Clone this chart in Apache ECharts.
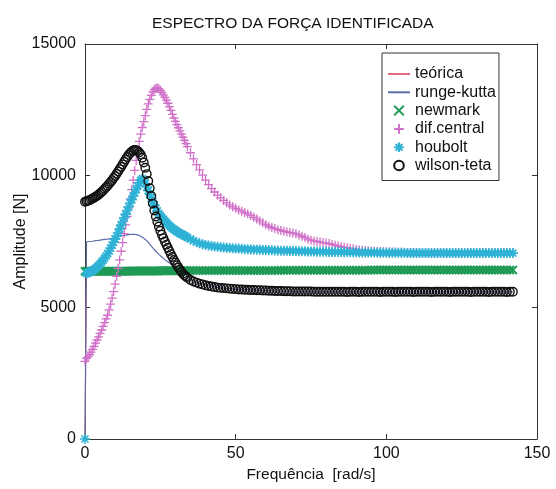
<!DOCTYPE html>
<html><head><meta charset="utf-8">
<script src="https://cdn.jsdelivr.net/npm/echarts@6/dist/echarts.min.js"></script>
<style>html,body{margin:0;padding:0;background:#fff}#c{width:556px;height:489px}</style>
</head><body><div id="c"></div>
<script>
const titleText = 'ESPECTRO DA FORÇA IDENTIFICADA';
const xName = 'Frequência  [rad/s]';
const yName = 'Amplitude [N]';
const xTicks = [0, 50, 100, 150];
const yTicks = [0, 5000, 10000, 15000];
const seriesNames = ['teórica', 'runge-kutta', 'newmark', 'dif.central', 'houbolt', 'wilson-teta'];

const freq = [
  0,0.5,1,1.5,2,2.5,3,3.5,4,4.5,
  5,5.5,6,6.5,7,7.5,8,8.5,9,9.5,
  10,10.5,11,11.5,12,12.5,13,13.5,14,14.5,
  15,15.5,16,16.5,17,17.5,18,18.5,19,19.5,
  20,20.5,21,21.5,22,22.5,23,23.5,24,24.5,
  25,25.5,26,26.5,27,27.5,28,28.5,29,29.5,
  30,30.5,31,31.5,32,32.5,33,33.5,34,
  35,36,37,38,39,40,41,42,43,44,
  45,46,47,48,49,50,51,52,53,54,
  55,56,57,58,59,60,61,62,63,64,
  65,66,67,68,69,70,71,72,73,74,
  75,76,77,78,79,80,81,82,83,84,
  85,86,87,88,89,90,91,92,93,94,
  95,96,97,98,99,100,101,102,103,104,
  105,106,107,108,109,110,111,112,113,114,
  115,116,117,118,119,120,121,122,123,124,
  125,126,127,128,129,130,131,132,133,134,
  135,136,137,138,139,140,141,142
];

const teorica = [
  0,6370,6370,6370,6370,6370,6370,6370,6370,6370,
  6370,6370,6370,6370,6370,6370,6370,6370,6370,6370,
  6370,6370,6370,6370,6370,6370,6370,6370,6370,6370,
  6380,6380,6380,6380,6380,6380,6380,6380,6380,6380,
  6380,6380,6380,6380,6380,6380,6380,6380,6380,6380,
  6390,6390,6390,6390,6390,6390,6390,6390,6390,6390,
  6390,6390,6390,6390,6390,6390,6390,6390,6390,
  6400,6400,6400,6400,6400,6400,6400,6400,6400,6400,
  6400,6400,6400,6400,6400,6400,6400,6400,6400,6400,
  6400,6400,6400,6400,6400,6400,6400,6400,6400,6400,
  6410,6410,6410,6410,6410,6410,6410,6410,6410,6410,
  6410,6410,6410,6410,6410,6410,6410,6410,6410,6410,
  6410,6410,6410,6410,6410,6410,6410,6410,6410,6410,
  6420,6420,6420,6420,6420,6420,6420,6420,6420,6420,
  6420,6420,6420,6420,6420,6420,6420,6420,6420,6420,
  6420,6420,6420,6420,6420,6420,6420,6420,6420,6420,
  6420,6420,6420,6420,6420,6420,6420,6420,6420,6420,
  6420,6420,6420,6420,6420,6420,6420,6420
];

const rungeKutta = [
  0,7490,7500,7500,7510,7510,7520,7530,7540,7540,
  7550,7560,7570,7580,7590,7590,7600,7610,7620,7630,
  7640,7660,7670,7690,7700,7720,7730,7740,7750,7760,
  7760,7770,7770,7770,7760,7750,7730,7700,7660,7620,
  7580,7530,7470,7400,7330,7260,7190,7130,7070,7010,
  6960,6910,6860,6810,6770,6730,6680,6640,6600,6560,
  6530,6500,6470,6440,6400,6340,6280,6220,6170,
  6080,6010,5960,5910,5880,5850,5820,5800,5780,5760,
  5740,5730,5720,5710,5700,5690,5680,5680,5670,5670,
  5660,5660,5650,5650,5640,5640,5630,5630,5620,5620,
  5620,5610,5610,5610,5600,5600,5600,5600,5600,5600,
  5600,5590,5590,5590,5590,5590,5590,5590,5590,5590,
  5590,5590,5590,5590,5590,5590,5590,5590,5590,5590,
  5590,5590,5590,5590,5590,5590,5590,5590,5590,5590,
  5590,5590,5590,5590,5590,5590,5590,5590,5590,5590,
  5590,5590,5590,5590,5590,5590,5590,5590,5590,5590,
  5590,5590,5590,5590,5590,5590,5590,5590,5590,5590,
  5590,5590,5590,5590,5590,5590,5590,5590
];

const newmark = [
  6370,6370,6370,6370,6370,6370,6370,6370,6370,6370,
  6370,6370,6370,6370,6370,6370,6370,6370,6370,6370,
  6370,6370,6370,6370,6370,6370,6370,6370,6370,6370,
  6380,6380,6380,6380,6380,6380,6380,6380,6380,6380,
  6380,6380,6380,6380,6380,6380,6380,6380,6380,6380,
  6390,6390,6390,6390,6390,6390,6390,6390,6390,6390,
  6390,6390,6390,6390,6390,6390,6390,6390,6390,
  6400,6400,6400,6400,6400,6400,6400,6400,6400,6400,
  6400,6400,6400,6400,6400,6400,6400,6400,6400,6400,
  6400,6400,6400,6400,6400,6400,6400,6400,6400,6400,
  6410,6410,6410,6410,6410,6410,6410,6410,6410,6410,
  6410,6410,6410,6410,6410,6410,6410,6410,6410,6410,
  6410,6410,6410,6410,6410,6410,6410,6410,6410,6410,
  6420,6420,6420,6420,6420,6420,6420,6420,6420,6420,
  6420,6420,6420,6420,6420,6420,6420,6420,6420,6420,
  6420,6420,6420,6420,6420,6420,6420,6420,6420,6420,
  6420,6420,6420,6420,6420,6420,6420,6420,6420,6420,
  6420,6420,6420,6420,6420,6420,6420,6420
];

const difCentral = [
  2950,3060,3120,3200,3300,3400,3520,3640,3760,3880,
  4010,4140,4280,4420,4560,4700,4900,5120,5350,5600,
  5880,6180,6480,6800,7130,7460,7800,8130,8450,8780,
  9120,9470,9830,10200,10580,10960,11300,11580,11830,12050,
  12280,12520,12730,12900,13050,13180,13270,13320,13330,13300,
  13240,13160,13070,12970,12870,12750,12620,12480,12330,12190,
  12060,11940,11820,11700,11580,11460,11340,11220,11100,
  10870,10640,10420,10220,10020,9830,9660,9510,9380,9260,
  9160,9060,8970,8890,8820,8760,8700,8650,8600,8550,
  8490,8420,8350,8280,8210,8140,8080,8030,7990,7950,
  7920,7890,7860,7840,7820,7790,7750,7700,7650,7590,
  7550,7520,7500,7480,7460,7440,7420,7390,7360,7330,
  7300,7280,7260,7240,7220,7200,7180,7170,7160,7150,
  7140,7130,7120,7120,7110,7110,7100,7100,7090,7090,
  7090,7080,7080,7080,7080,7070,7070,7070,7070,7070,
  7060,7060,7060,7060,7060,7060,7060,7060,7060,7060,
  7060,7060,7060,7060,7060,7060,7060,7060,7060,7060,
  7060,7060,7060,7060,7060,7060,7060,7060
];

const houbolt = [
  0,6290,6310,6330,6360,6390,6430,6480,6530,6590,
  6650,6720,6790,6870,6950,7040,7140,7250,7360,7470,
  7590,7710,7840,7980,8120,8260,8400,8540,8680,8820,
  8960,9090,9220,9350,9480,9610,9730,9830,9880,9820,
  9700,9570,9430,9290,9150,9010,8880,8760,8660,8570,
  8490,8420,8350,8280,8220,8160,8100,8050,8000,7960,
  7920,7880,7840,7810,7780,7750,7720,7690,7650,
  7590,7530,7480,7430,7400,7370,7350,7330,7310,7300,
  7280,7270,7260,7250,7240,7230,7230,7220,7210,7210,
  7200,7200,7190,7190,7180,7180,7170,7170,7160,7160,
  7150,7150,7150,7140,7140,7140,7130,7130,7130,7120,
  7120,7120,7110,7110,7110,7110,7100,7100,7100,7100,
  7100,7090,7090,7090,7090,7090,7080,7080,7080,7080,
  7080,7080,7080,7070,7070,7070,7070,7070,7070,7070,
  7070,7070,7060,7060,7060,7060,7060,7060,7060,7060,
  7060,7060,7060,7060,7060,7060,7060,7060,7060,7060,
  7060,7060,7060,7060,7060,7060,7060,7060,7060,7060,
  7060,7060,7060,7060,7060,7060,7060,7060
];

const wilsonTeta = [
  9010,9030,9050,9070,9100,9130,9160,9200,9240,9280,
  9330,9380,9440,9500,9560,9620,9690,9760,9830,9910,
  9990,10070,10160,10250,10340,10430,10530,10620,10710,10790,
  10860,10920,10960,10980,10970,10940,10880,10800,10680,10500,
  10300,10060,9800,9520,9230,8940,8680,8450,8250,8070,
  7910,7760,7630,7500,7380,7260,7140,7020,6910,6800,
  6700,6600,6510,6430,6350,6280,6220,6170,6120,
  6040,5980,5940,5900,5870,5840,5810,5790,5770,5750,
  5740,5730,5720,5710,5700,5690,5680,5680,5670,5670,
  5660,5660,5650,5650,5640,5640,5630,5630,5620,5620,
  5620,5610,5610,5610,5600,5600,5600,5600,5600,5600,
  5600,5590,5590,5590,5590,5590,5590,5590,5590,5590,
  5590,5590,5580,5590,5590,5590,5580,5590,5590,5590,
  5590,5590,5590,5580,5590,5590,5590,5590,5580,5590,
  5590,5590,5590,5590,5580,5590,5590,5590,5590,5590,
  5580,5590,5590,5590,5590,5590,5580,5590,5590,5590,
  5590,5590,5590,5580,5590,5590,5590,5590,5590,5580,
  5590,5590,5590,5590,5590,5580,5590,5590
];

const FONT = '"Liberation Sans", Arial, Helvetica, sans-serif';
const AX = '#333';
const pairs = vals => freq.map((f, i) => [f, vals[i]]);

const SYM_X = 'path://M0,0L10,10M10,0L0,10';
const SYM_PLUS = 'path://M5,0L5,10M0,5L10,5';
const SYM_STAR = 'path://M5,0L5,10M0,5L10,5M1.5,1.5L8.5,8.5M8.5,1.5L1.5,8.5';

function lineSeries(name, vals, color) {
  return { name, type: 'line', data: pairs(vals), showSymbol: false, symbol: 'none',
    lineStyle: { color, width: 1.2 }, itemStyle: { color }, silent: true };
}
function markSeries(name, vals, color, symbol, size, bw) {
  return { name, type: 'line', data: pairs(vals), symbol, symbolSize: size, showAllSymbol: true,
    lineStyle: { color, width: 1, opacity: 0 },
    itemStyle: { color: 'rgba(0,0,0,0)', borderColor: color, borderWidth: bw }, silent: true };
}

const plainLabel = v => String(v);

const tickAxisX = (pos, show) => ({
  type: 'value', min: xTicks[0], max: xTicks[xTicks.length - 1], interval: xTicks[1] - xTicks[0], position: pos,
  axisLine: { show: true, onZero: false, lineStyle: { color: AX, width: 1 } },
  axisTick: { show: true, inside: true, length: 5, lineStyle: { color: AX } },
  splitLine: { show: false },
  axisLabel: { show, fontFamily: FONT, fontSize: 16, color: '#111', margin: 7, formatter: plainLabel }
});
const tickAxisY = (pos, show) => ({
  type: 'value', min: yTicks[0], max: yTicks[yTicks.length - 1], interval: yTicks[1] - yTicks[0], position: pos,
  axisLine: { show: true, onZero: false, lineStyle: { color: AX, width: 1 } },
  axisTick: { show: true, inside: true, length: 5, lineStyle: { color: AX } },
  splitLine: { show: false },
  axisLabel: { show, fontFamily: FONT, fontSize: 16, color: '#111', margin: 9, formatter: plainLabel }
});

const xBottom = Object.assign(tickAxisX('bottom', true), {
  name: xName, nameLocation: 'middle', nameGap: 28, nameMoveOverlap: false,
  nameTextStyle: { fontFamily: FONT, fontSize: 15.5, color: '#111' }
});
const xTop = tickAxisX('top', false);
const yLeft = Object.assign(tickAxisY('left', true), {
  name: yName, nameLocation: 'middle', nameGap: 56, nameRotate: 90, nameMoveOverlap: false,
  nameTextStyle: { fontFamily: FONT, fontSize: 16, color: '#111' }
});
const yRight = tickAxisY('right', false);

const legendData = seriesNames.map((n, i) => i < 2 ? { name: n, itemStyle: { opacity: 0 } } : { name: n });

const chart = echarts.init(document.getElementById('c'), null, { renderer: 'canvas' });
chart.setOption({
  animation: false,
  backgroundColor: '#fff',
  title: { text: titleText, left: 147, top: 11,
    textStyle: { fontFamily: FONT, fontSize: 15.5, fontWeight: 'normal', color: '#111' } },
  grid: { left: 85, right: 19, top: 44, bottom: 50, containLabel: false, outerBoundsMode: 'none' },
  legend: {
    orient: 'vertical', left: 382, top: 53, padding: [13, 3, 7, 5],
    itemWidth: 22, itemHeight: 12, itemGap: 2.3,
    borderColor: '#333', borderWidth: 1, backgroundColor: '#fff',
    textStyle: { fontFamily: FONT, fontSize: 16, color: '#111', lineHeight: 16 },
    data: legendData
  },
  xAxis: [xBottom, xTop],
  yAxis: [yLeft, yRight],
  series: [
    lineSeries(seriesNames[0], teorica, '#e2687c'),
    lineSeries(seriesNames[1], rungeKutta, '#5b6ea8'),
    markSeries(seriesNames[2], newmark, '#1f9a55', SYM_X, 8, 2),
    markSeries(seriesNames[3], difCentral, '#d070c8', SYM_PLUS, 9, 1.3),
    markSeries(seriesNames[4], houbolt, '#2eb2d6', SYM_STAR, 10, 1.6),
    markSeries(seriesNames[5], wilsonTeta, '#111111', 'circle', 8.5, 1.4)
  ]
});
</script></body></html>
